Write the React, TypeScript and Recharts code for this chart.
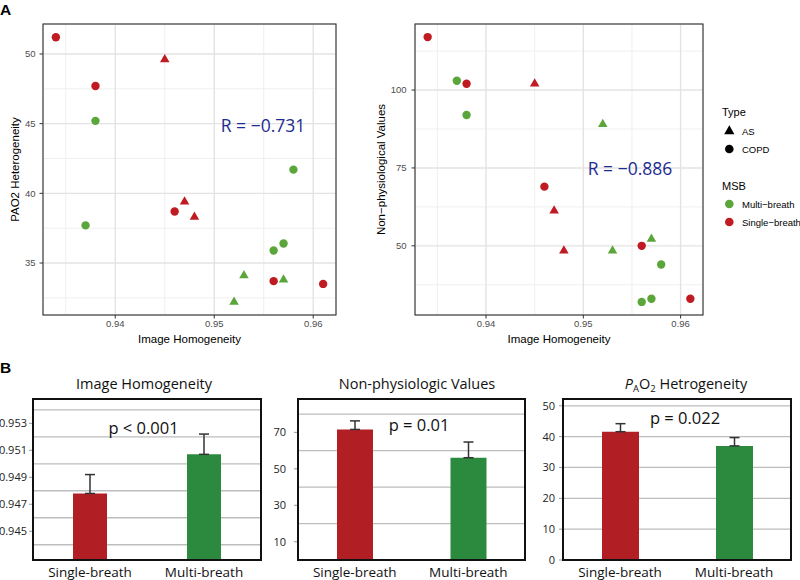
import React from "react";
import {
  ScatterChart,
  Scatter,
  XAxis,
  YAxis,
  CartesianGrid,
  BarChart,
  Bar,
  ErrorBar,
  Cell,
} from "recharts";

// Panel A: one entry per subject (same order in both scatter plots)
const homogeneity = [0.934, 0.938, 0.938, 0.945, 0.958, 0.937, 0.946, 0.947, 0.948, 0.956, 0.957, 0.953, 0.956, 0.957, 0.952, 0.961];
const pao2Heterogeneity = [51.2, 47.7, 45.2, 49.6, 41.7, 37.7, 38.7, 39.4, 38.3, 35.9, 36.4, 34.1, 33.7, 33.8, 32.2, 33.5];
const nonPhysiological = [117, 102, 92, 102, 44, 103, 69, 61.3, 48.4, 32, 33, 48.4, 50, 52.2, 89, 33];
const diseaseType = ["COPD", "COPD", "COPD", "AS", "COPD", "COPD", "COPD", "AS", "AS", "COPD", "COPD", "AS", "COPD", "AS", "AS", "COPD"];
const breathMode = ["Single", "Single", "Multi", "Single", "Multi", "Multi", "Single", "Single", "Single", "Multi", "Multi", "Multi", "Single", "Multi", "Multi", "Single"];

const xTicks = [0.94, 0.95, 0.96];
const xMinor = [0.935, 0.945, 0.955];
const pao2Ticks = [35, 40, 45, 50];
const pao2Minor = [32.5, 37.5, 42.5, 47.5];
const nonPhysTicks = [50, 75, 100];
const nonPhysMinor = [37.5, 62.5, 87.5, 112.5];

// Panel B: group means and upper error
const breathGroups = ["Single-breath", "Multi-breath"];
const homMeans = [0.9478, 0.9507];
const homErr = [0.0014, 0.0015];
const homTicks = [0.945, 0.947, 0.949, 0.951, 0.953];
const homGrid = [0.944, 0.945, 0.946, 0.947, 0.948, 0.949, 0.95, 0.951, 0.952, 0.953, 0.954];
const npMeans = [71.6, 56.1];
const npErr = [4.7, 8.6];
const npTicks = [10, 30, 50, 70];
const npGrid = [10, 20, 30, 40, 50, 60, 70, 80];
const paMeans = [41.6, 37.0];
const paErr = [2.6, 2.7];
const paTicks = [0, 10, 20, 30, 40, 50];
const paGrid = [5, 10, 15, 20, 25, 30, 35, 40, 45, 50];

const RED = "#C01B22";
const GREEN = "#5BA63B";
const BAR_RED = "#B11F24";
const BAR_GREEN = "#2B8A3E";
const AXIS = "#333333";
const SANS = "'Liberation Sans', Arial, sans-serif";
const MYRIAD = "'Open Sans', sans-serif";

const X_DOMAIN: [number, number] = [0.9327, 0.9623];

const CircleMark = (props: any) => <circle cx={props.cx} cy={props.cy} r={4.2} fill={props.fill} />;
const TriangleMark = (props: any) => {
  const { cx, cy, fill } = props;
  const s = 5.5;
  return <polygon points={`${cx},${cy - s} ${cx - s * 0.866},${cy + s / 2} ${cx + s * 0.866},${cy + s / 2}`} fill={fill} />;
};

const SERIES = [
  { type: "COPD", mode: "Multi", color: GREEN, shape: CircleMark },
  { type: "COPD", mode: "Single", color: RED, shape: CircleMark },
  { type: "AS", mode: "Multi", color: GREEN, shape: TriangleMark },
  { type: "AS", mode: "Single", color: RED, shape: TriangleMark },
];

function pointsFor(yValues: number[], type: string, mode: string) {
  return homogeneity
    .map((x, i) => ({ x, y: yValues[i], type: diseaseType[i], mode: breathMode[i] }))
    .filter((p) => p.type === type && p.mode === mode);
}

function ScatterPanel(props: any) {
  const { left, width, yAxisWidth, marginRight, yValues, yDomain, yTicks, yMinor, yTitle, yTitleOffset, yTickMargin } = props;
  return (
    <div style={{ position: "absolute", left, top: 0 }}>
      <ScatterChart width={width} height={350} margin={{ top: 24, right: marginRight, bottom: 5, left: 0 }}>
        <CartesianGrid stroke="#efefef" strokeWidth={1} horizontalValues={yMinor} verticalValues={xMinor} />
        <CartesianGrid stroke="#e3e3e3" strokeWidth={1.4} />
        <XAxis
          type="number"
          dataKey="x"
          domain={X_DOMAIN}
          allowDataOverflow
          ticks={xTicks}
          tickFormatter={(v: number) => v.toFixed(2)}
          height={30}
          tickSize={3.5}
          tickMargin={1.5}
          tickLine={{ stroke: AXIS }}
          axisLine={false}
          tick={{ fill: "#4d4d4d", fontSize: 9.5, fontFamily: SANS }}
          label={{ value: "Image Homogeneity", position: "insideBottom", offset: 2, fill: "#000", fontSize: 11.5, fontFamily: SANS }}
        />
        <YAxis
          type="number"
          dataKey="y"
          domain={yDomain}
          allowDataOverflow
          ticks={yTicks}
          width={yAxisWidth}
          tickSize={3.5}
          tickMargin={yTickMargin}
          tickLine={{ stroke: AXIS }}
          axisLine={false}
          tick={{ fill: "#4d4d4d", fontSize: 9.5, fontFamily: SANS }}
          label={{
            value: yTitle,
            angle: -90,
            position: "insideLeft",
            offset: yTitleOffset,
            fill: "#000",
            fontSize: 11.5,
            fontFamily: SANS,
            style: { textAnchor: "middle" },
          }}
        />
        {SERIES.map((s) => (
          <Scatter
            key={s.type + s.mode}
            data={pointsFor(yValues, s.type, s.mode)}
            fill={s.color}
            shape={s.shape}
            isAnimationActive={false}
          />
        ))}
      </ScatterChart>
    </div>
  );
}

function BarPanel(props: any) {
  const { left, width, yAxisWidth, marginRight, marginTop, domain, ticks, grid, fmt, means, errs, barSize, tickMargin } = props;
  const data = breathGroups.map((name, i) => ({ name, mean: means[i], err: [0, errs[i]] }));
  const colors = [BAR_RED, BAR_GREEN];
  return (
    <div style={{ position: "absolute", left, top: 390 }}>
      <BarChart width={width} height={190} data={data} margin={{ top: marginTop, right: marginRight, bottom: 0, left: 0 }}>
        <CartesianGrid vertical={false} horizontalValues={grid} stroke="#bdbdbd" strokeWidth={1.3} />
        <XAxis
          dataKey="name"
          height={20}
          tickLine={false}
          tickSize={0}
          tickMargin={7}
          axisLine={false}
          tick={{ fill: "#111", fontSize: 13.5, fontFamily: MYRIAD }}
        />
        <YAxis
          type="number"
          domain={domain}
          allowDataOverflow
          ticks={ticks}
          tickFormatter={fmt}
          width={yAxisWidth}
          tickSize={4}
          tickMargin={tickMargin}
          tickLine={{ stroke: "#999" }}
          axisLine={false}
          tick={{ fill: "#222", fontSize: 11, fontFamily: MYRIAD }}
        />
        <Bar dataKey="mean" barSize={barSize} isAnimationActive={false}>
          {data.map((d, i) => (
            <Cell key={d.name} fill={colors[i]} />
          ))}
          <ErrorBar dataKey="err" width={5} stroke="#333" strokeWidth={1.5} direction="y" />
        </Bar>
      </BarChart>
    </div>
  );
}

export default function App() {
  return (
    <div style={{ position: "relative", width: 800, height: 580, background: "#fff", overflow: "hidden" }}>
      <style>{"body{margin:0}"}</style>
      <ScatterPanel
        left={0}
        width={340}
        yAxisWidth={43}
        marginRight={4}
        yValues={pao2Heterogeneity}
        yDomain={[31.27, 52.15]}
        yTicks={pao2Ticks}
        yMinor={pao2Minor}
        yTitle="PAO2 Heterogeneity"
        yTitleOffset={15}
        yTickMargin={4}
      />
      <ScatterPanel
        left={350}
        width={354}
        yAxisWidth={65}
        marginRight={1}
        yValues={nonPhysiological}
        yDomain={[27.8, 121.2]}
        yTicks={nonPhysTicks}
        yMinor={nonPhysMinor}
        yTitle="Non−physiological Values"
        yTitleOffset={31}
        yTickMargin={5}
      />
      <BarPanel
        left={0}
        width={270}
        yAxisWidth={33}
        marginRight={9}
        marginTop={9}
        domain={[0.94287, 0.9548]}
        ticks={homTicks}
        grid={homGrid}
        fmt={(v: number) => v.toFixed(3)}
        means={homMeans}
        errs={homErr}
        barSize={34}
        tickMargin={2}
      />
      <BarPanel
        left={265}
        width={265}
        yAxisWidth={33}
        marginRight={5}
        marginTop={9}
        domain={[0, 88.3]}
        ticks={npTicks}
        grid={npGrid}
        fmt={(v: number) => String(v)}
        means={npMeans}
        errs={npErr}
        barSize={36}
        tickMargin={8}
      />
      <BarPanel
        left={530}
        width={270}
        yAxisWidth={33}
        marginRight={9}
        marginTop={9}
        domain={[0, 52.2]}
        ticks={paTicks}
        grid={paGrid}
        fmt={(v: number) => String(v)}
        means={paMeans}
        errs={paErr}
        barSize={37}
        tickMargin={4}
      />

      {/* panel frames, annotations, titles and legend */}
      <svg width={800} height={580} style={{ position: "absolute", left: 0, top: 0, pointerEvents: "none" }}>
        <g fill="none">
          <rect x={43} y={24} width={293} height={291} stroke={AXIS} strokeWidth={1.1} />
          <rect x={415} y={24} width={288} height={291} stroke={AXIS} strokeWidth={1.1} />
          <rect x={33} y={399} width={228} height={161} stroke="#111" strokeWidth={2} />
          <rect x={298} y={399} width={227} height={161} stroke="#111" strokeWidth={2} />
          <rect x={563} y={399} width={228} height={161} stroke="#111" strokeWidth={2} />
        </g>

        <text x={0} y={15} fontFamily={SANS} fontWeight="bold" fontSize={15.5} fill="#000">A</text>
        <text x={0} y={373} fontFamily={SANS} fontWeight="bold" fontSize={15.5} fill="#000">B</text>

        <text x={263} y={131.5} textAnchor="middle" fontFamily={MYRIAD} fontSize={17.5} fill="#1d2b8f">R = −0.731</text>
        <text x={630} y={175} textAnchor="middle" fontFamily={MYRIAD} fontSize={17.5} fill="#1d2b8f">R = −0.886</text>

        <text x={144} y={389} textAnchor="middle" fontFamily={MYRIAD} fontSize={14.5} fill="#111">Image Homogeneity</text>
        <text x={417} y={389} textAnchor="middle" fontFamily={MYRIAD} fontSize={14.5} fill="#111">Non-physiologic Values</text>
        <text x={686} y={388.5} textAnchor="middle" fontFamily={MYRIAD} fontSize={14.5} fill="#111">
          <tspan fontStyle="italic">P</tspan>
          <tspan fontSize={9.5} dy={3}>A</tspan>
          <tspan dy={-3}>O</tspan>
          <tspan fontSize={9.5} dy={3}>2</tspan>
          <tspan dy={-3}> Hetrogeneity</tspan>
        </text>

        <text x={143.5} y={433.5} textAnchor="middle" fontFamily={MYRIAD} fontSize={16.5} fill="#111">p &lt; 0.001</text>
        <text x={419} y={430.7} textAnchor="middle" fontFamily={MYRIAD} fontSize={16.5} fill="#111">p = 0.01</text>
        <text x={685} y={424} textAnchor="middle" fontFamily={MYRIAD} fontSize={16.5} fill="#111">p = 0.022</text>

        <g fontFamily={SANS}>
          <text x={722} y={116} fontSize={11} fill="#000">Type</text>
          <polygon points="729.3,125.3 724.2,134.2 734.4,134.2" fill="#000" />
          <text x={742} y={134.5} fontSize={9.5} fill="#000">AS</text>
          <circle cx={729.3} cy={149} r={4.3} fill="#000" />
          <text x={742} y={152.5} fontSize={9.5} fill="#000">COPD</text>
          <text x={722} y={190} fontSize={11} fill="#000">MSB</text>
          <circle cx={729.3} cy={204} r={4.3} fill={GREEN} />
          <text x={742} y={207.5} fontSize={9.5} fill="#000">Multi−breath</text>
          <circle cx={729.3} cy={222} r={4.3} fill={RED} />
          <text x={742} y={225.5} fontSize={9.5} fill="#000">Single−breath</text>
        </g>
      </svg>
    </div>
  );
}
